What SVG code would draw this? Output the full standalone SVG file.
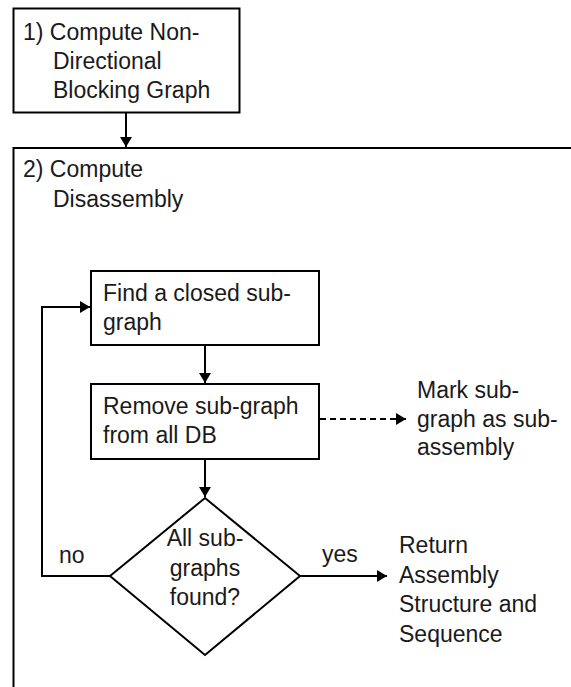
<svg xmlns="http://www.w3.org/2000/svg" width="571" height="687" viewBox="0 0 571 687">
<style>
  .box { fill: #ffffff; stroke: #000000; stroke-width: 2; }
  .line { fill: none; stroke: #000000; stroke-width: 2; }
  .dash { fill: none; stroke: #000000; stroke-width: 2; stroke-dasharray: 6 4; }
  text { font-family: "Liberation Sans", Arial, sans-serif; font-size: 23px; fill: #1a1a1a; }
  .mid { text-anchor: middle; }
</style>
<defs>
  <marker id="arrow" markerUnits="userSpaceOnUse" markerWidth="10" markerHeight="12" refX="10" refY="6" orient="auto">
    <path d="M0,0 L10,6 L0,12 z" fill="#000000"/>
  </marker>
</defs>
<rect width="571" height="687" fill="#ffffff"/>

<g id="node-compute-ndbg">
  <rect class="box" x="13.5" y="8.5" width="226" height="104"/>
  <text x="23" y="40">1) Compute Non-</text>
  <text x="53" y="69">Directional</text>
  <text x="53" y="98">Blocking Graph</text>
</g>

<g id="node-compute-disassembly">
  <rect class="box" x="13.5" y="148" width="620" height="600"/>
  <text x="23" y="177">2) Compute</text>
  <text x="53" y="207">Disassembly</text>
</g>

<g id="node-find-subgraph">
  <rect class="box" x="91" y="271" width="228" height="74"/>
  <text x="103" y="301">Find a closed sub-</text>
  <text x="103" y="330">graph</text>
</g>

<g id="node-remove-subgraph">
  <rect class="box" x="91" y="384" width="228" height="75"/>
  <text x="103" y="414">Remove sub-graph</text>
  <text x="103" y="443">from all DB</text>
</g>

<g id="node-all-found">
  <polygon class="box" points="205,498 300,576 205,655 110,576"/>
  <text class="mid" x="205" y="546">All sub-</text>
  <text class="mid" x="205" y="576">graphs</text>
  <text class="mid" x="205" y="605">found?</text>
</g>

<g id="node-mark-subassembly">
  <text x="417" y="398">Mark sub-</text>
  <text x="417" y="427">graph as sub-</text>
  <text x="417" y="455">assembly</text>
</g>

<g id="node-return">
  <text x="399" y="553">Return</text>
  <text x="399" y="583">Assembly</text>
  <text x="399" y="612">Structure and</text>
  <text x="399" y="642">Sequence</text>
</g>

<g id="connectors">
  <line class="line" x1="126" y1="113" x2="126" y2="147" marker-end="url(#arrow)"/>
  <line class="line" x1="205" y1="345" x2="205" y2="383" marker-end="url(#arrow)"/>
  <line class="line" x1="205" y1="459" x2="205" y2="497" marker-end="url(#arrow)"/>
  <polyline class="line" points="110,576 42,576 42,307 90,307" marker-end="url(#arrow)"/>
  <line class="line" x1="300" y1="576" x2="387" y2="576" marker-end="url(#arrow)"/>
  <line class="dash" x1="320" y1="419" x2="406" y2="419" marker-end="url(#arrow)"/>
  <text x="59" y="563">no</text>
  <text x="322" y="562">yes</text>
</g>
</svg>
